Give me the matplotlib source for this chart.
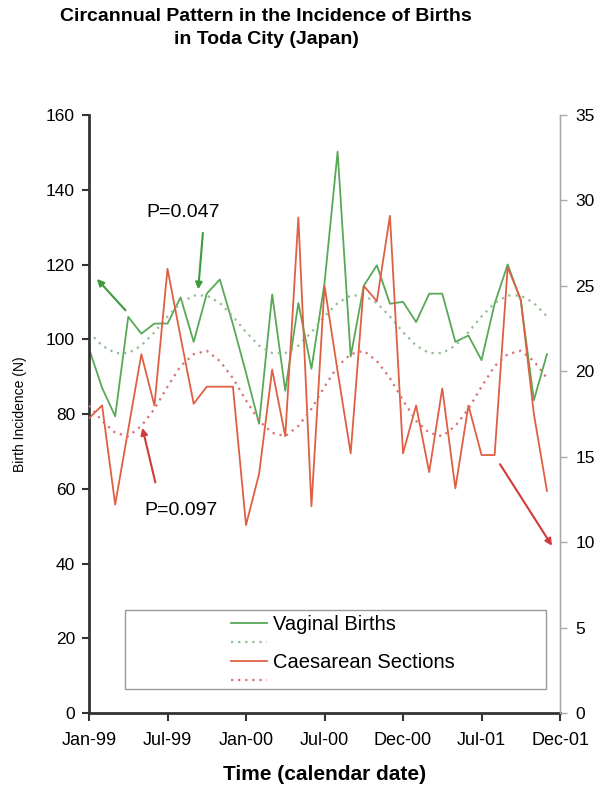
import numpy as np
import matplotlib
matplotlib.use("Agg")
import matplotlib.pyplot as plt
from matplotlib.lines import Line2D
from matplotlib.patches import Rectangle

plt.rcParams['font.family'] = ['Liberation Sans', 'DejaVu Sans']

# monthly values, Jan-99 .. Dec-01
vaginal = [97.5, 87, 79.4, 106, 101.5, 104.2, 104.2, 111.2, 99.3, 112.2, 116, 104,
           91, 77.4, 112, 86.2, 109.7, 92.1, 115, 150.2, 95.4, 114.3, 119.8, 109.5,
           110, 104.6, 112.2, 112.2, 99.3, 101, 94.4, 109.5, 120, 110.4, 83.7, 96]
vaginal_fit = [101.9, 98.3, 96.3, 96.3, 98.3, 101.9, 106.1, 109.7, 111.7, 111.7, 109.7, 106.1,
               101.9, 98.3, 96.3, 96.3, 98.3, 101.9, 106.1, 109.7, 111.7, 111.7, 109.7, 106.1,
               101.9, 98.3, 96.3, 96.3, 98.3, 101.9, 106.1, 109.7, 111.7, 111.7, 109.7, 106.1]
caesarean = [17.25, 18.0, 12.2, 16.6, 21.0, 18.0, 26.0, 22.0, 18.1, 19.1, 19.1, 19.1,
             11.0, 14.0, 20.1, 16.2, 29.0, 12.1, 25.0, 20.0, 15.2, 25.0, 24.1, 29.1,
             15.2, 18.0, 14.1, 19.0, 13.15, 18.0, 15.1, 15.1, 26.1, 24.2, 17.5, 13.0]
caesarean_fit = [18.0, 17.1, 16.4, 16.2, 16.8, 17.8, 19.1, 20.3, 21.0, 21.2, 20.6, 19.6,
                 18.3, 17.1, 16.4, 16.2, 16.8, 17.8, 19.1, 20.3, 21.0, 21.2, 20.6, 19.6,
                 18.3, 17.1, 16.4, 16.2, 16.8, 17.8, 19.1, 20.3, 21.0, 21.2, 20.6, 19.6]
tick_pos = [0, 6, 12, 18, 24, 30, 36]
tick_labels = ["Jan-99", "Jul-99", "Jan-00", "Jul-00", "Dec-00", "Jul-01", "Dec-01"]

months = np.arange(len(vaginal))

green = "#58a858"
green_dot = "#93bd93"
red = "#df5f43"
red_dot = "#d87272"
dots = (0, (1, 2.2))

fig = plt.figure(figsize=(6.08, 7.92), dpi=100)
ax = fig.add_axes([0.1464, 0.0997, 0.7747, 0.7551])
ax2 = ax.twinx()

ax.plot(months, vaginal, color=green, lw=1.3)
ax.plot(months, vaginal_fit, color=green_dot, lw=1.6, ls=dots)
ax2.plot(months, caesarean, color=red, lw=1.3)
ax2.plot(months, caesarean_fit, color=red_dot, lw=1.6, ls=dots)

ax.set_xlim(0, 36)
ax.set_ylim(0, 160)
ax.set_yticks(range(0, 161, 20))
ax2.set_ylim(0, 35)
ax2.set_yticks(range(0, 36, 5))
ax.set_xticks(tick_pos)
ax.set_xticklabels(tick_labels)

for a in (ax, ax2):
    a.spines['top'].set_visible(False)
ax.spines['left'].set_color("#333333")
ax.spines['left'].set_linewidth(2)
ax.spines['bottom'].set_color("#333333")
ax.spines['bottom'].set_linewidth(2)
ax2.spines['left'].set_visible(False)
ax2.spines['bottom'].set_visible(False)
ax2.spines['right'].set_color("#aaaaaa")
ax2.spines['right'].set_linewidth(1)
ax.tick_params(axis='y', direction='out', length=5, width=1.5, color="#333333",
               labelsize=12.5, pad=5)
ax.tick_params(axis='x', direction='out', length=6, width=1.5, color="#333333",
               labelsize=13, pad=8)
ax2.tick_params(axis='y', direction='out', length=5, width=1, color="#aaaaaa",
                labelsize=12.5, pad=6)

ax.set_ylabel("Birth Incidence (N)", fontsize=10, labelpad=14)
ax.set_xlabel("Time (calendar date)", fontsize=15, fontweight='bold', labelpad=11)

fig.text(0.438, 0.99, "Circannual Pattern in the Incidence of Births\nin Toda City (Japan)",
         ha='center', va='top', fontsize=14, fontweight='bold', linespacing=1.45)

# annotations
ax.text(7.2, 134, "P=0.047", ha='center', va='center', fontsize=14)
ax.annotate("", xy=(8.33, 112.6), xytext=(8.72, 129.2),
            arrowprops=dict(arrowstyle='-|>', color="#3f9a3f", lw=1.5, mutation_scale=10))
ax.annotate("", xy=(0.46, 116.7), xytext=(2.93, 107.2),
            arrowprops=dict(arrowstyle='-|>', color="#3f9a3f", lw=1.5, mutation_scale=10))
ax.text(7.0, 54.3, "P=0.097", ha='center', va='center', fontsize=14)
ax2.annotate("", xy=(4.03, 16.85), xytext=(5.12, 13.34),
             arrowprops=dict(arrowstyle='-|>', color="#d03a3a", lw=1.5, mutation_scale=10))
ax2.annotate("", xy=(35.5, 9.65), xytext=(31.3, 14.7),
             arrowprops=dict(arrowstyle='-|>', color="#d03a3a", lw=1.5, mutation_scale=10))

# legend box
ax2.add_patch(Rectangle((0.0764, 0.040), 0.894, 0.132, transform=ax2.transAxes,
                        fill=False, edgecolor="#999999", lw=1))
handles = [Line2D([], [], color=green, lw=1.3),
           Line2D([], [], color=green_dot, lw=1.6, ls=dots),
           Line2D([], [], color=red, lw=1.3),
           Line2D([], [], color=red_dot, lw=1.6, ls=dots)]
ax2.legend(handles, ["Vaginal Births", " ", "Caesarean Sections", " "],
           loc='upper left', bbox_to_anchor=(0.3015, 0.1635), frameon=False,
           fontsize=14.5, borderpad=0, borderaxespad=0, handlelength=1.79,
           handletextpad=0.3, labelspacing=0.0)

fig.savefig("out.png", dpi=100)
